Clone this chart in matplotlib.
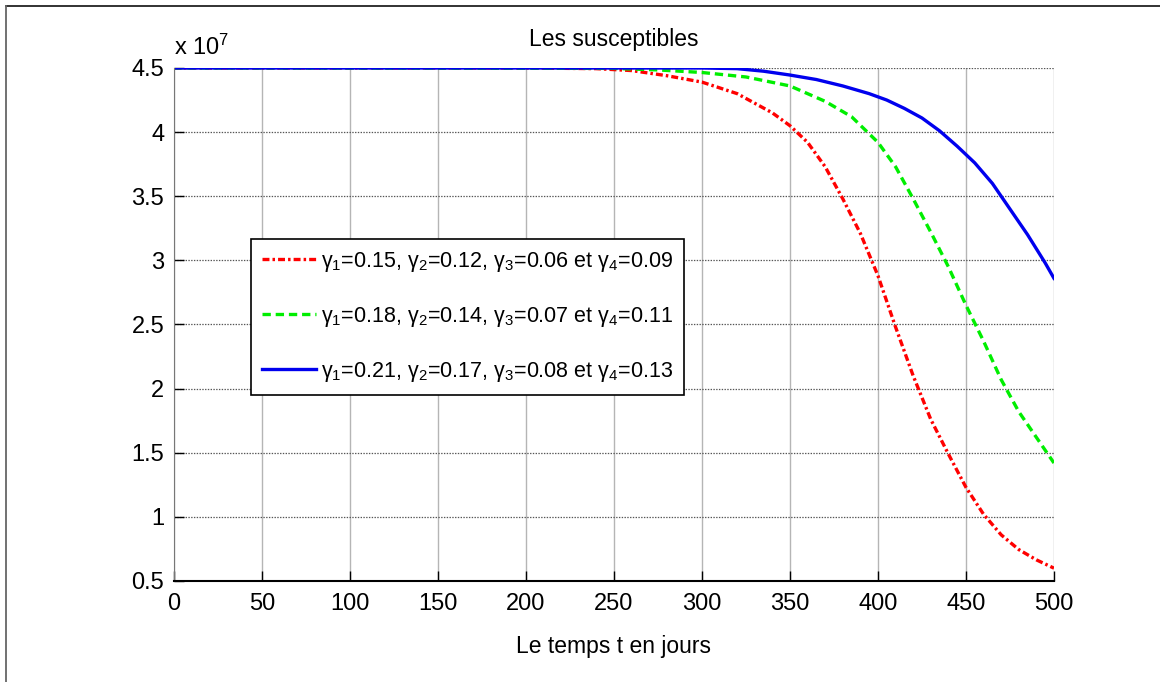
import matplotlib
matplotlib.use("Agg")
import matplotlib.pyplot as plt
from matplotlib import font_manager
from matplotlib.lines import Line2D

# police proche de Helvetica étroite (style MATLAB)
names = {f.name for f in font_manager.fontManager.ttflist}
police = "Liberation Sans Narrow" if "Liberation Sans Narrow" in names else "Liberation Sans"
plt.rcParams["font.family"] = [police, "DejaVu Sans"]
plt.rcParams["mathtext.fontset"] = "custom"
plt.rcParams["mathtext.rm"] = police
plt.rcParams["mathtext.it"] = police
plt.rcParams["mathtext.default"] = "regular"
plt.rcParams["lines.scale_dashes"] = False

# temps (jours) et susceptibles (x 10^7)
t_rouge = [0, 200, 240, 260, 280, 300, 320, 340, 350, 360, 370, 380, 390, 400,
           410, 420, 430, 440, 450, 460, 470, 480, 490, 500]
s_rouge = [4.5, 4.5, 4.495, 4.48, 4.44, 4.39, 4.30, 4.15, 4.05, 3.92, 3.73, 3.48,
           3.21, 2.88, 2.48, 2.10, 1.76, 1.49, 1.23, 1.02, 0.86, 0.745, 0.665, 0.60]

t_vert = [0, 250, 275, 300, 325, 350, 370, 385, 400, 410, 420, 430, 440, 450,
          460, 470, 480, 490, 500]
s_vert = [4.5, 4.497, 4.485, 4.465, 4.43, 4.36, 4.24, 4.12, 3.92, 3.73, 3.48,
          3.22, 2.95, 2.65, 2.37, 2.07, 1.82, 1.62, 1.42]

t_bleu = [0, 300, 320, 335, 350, 365, 380, 395, 405, 415, 425, 435, 445, 455,
          465, 475, 485, 495, 500]
s_bleu = [4.5, 4.5, 4.495, 4.475, 4.445, 4.41, 4.36, 4.30, 4.25, 4.185, 4.11,
          4.01, 3.89, 3.76, 3.60, 3.40, 3.20, 2.98, 2.86]

etiquettes = [
    r"$\gamma_1$=0.15, $\gamma_2$=0.12, $\gamma_3$=0.06 et $\gamma_4$=0.09",
    r"$\gamma_1$=0.18, $\gamma_2$=0.14, $\gamma_3$=0.07 et $\gamma_4$=0.11",
    r"$\gamma_1$=0.21, $\gamma_2$=0.17, $\gamma_3$=0.08 et $\gamma_4$=0.13",
]
xticks = list(range(0, 501, 50))
yticks = [0.5, 1, 1.5, 2, 2.5, 3, 3.5, 4, 4.5]

fs = 17

fig = plt.figure(figsize=(11.6, 6.82), dpi=100)
ax = fig.add_axes([0.15, 0.1481, 0.7586, 0.7522])

ax.plot(t_rouge, s_rouge, color="red", lw=2.4, ls=(0, (5, 2.2, 1.8, 2.2)), label=etiquettes[0])
ax.plot(t_vert, s_vert, color="#00ee00", lw=2.4, ls=(0, (6, 3.5)), label=etiquettes[1])
ax.plot(t_bleu, s_bleu, color="#0000ee", lw=2.4, ls="-", label=etiquettes[2])

ax.set_xlim(0, 500)
ax.set_ylim(0.5, 4.5)
ax.set_xticks(xticks)
ax.set_yticks(yticks)
ax.set_xticklabels([str(v) for v in xticks])
ax.set_yticklabels([("%g" % v) for v in yticks])
ax.tick_params(direction="in", length=7, width=1, labelsize=fs, color="black")
ax.tick_params(axis="x", pad=9)
ax.tick_params(axis="y", pad=7)

# grille façon MATLAB
ax.grid(axis="x", color="#b5b5b5", lw=1, ls="-")
ax.grid(axis="y", color="#555555", lw=0.9, ls=(0, (1, 1)))
ax.set_axisbelow(True)

for cote in ["top", "right"]:
    ax.spines[cote].set_visible(False)
ax.spines["left"].set_color("#777777")
ax.spines["bottom"].set_linewidth(1.5)

ax.set_title("Les susceptibles", fontsize=16.5, pad=16)
ax.set_xlabel("Le temps t en jours", fontsize=16.5, labelpad=14)
ax.text(0, 1.015, r"x 10$^{7}$", transform=ax.transAxes, fontsize=fs,
        ha="left", va="bottom")

leg = ax.legend(loc="lower left", bbox_to_anchor=(0.0875, 0.363), fontsize=15.5,
                frameon=True, fancybox=False, framealpha=1, edgecolor="black",
                handlelength=2.5, handletextpad=0.25, labelspacing=1.45,
                borderpad=0.5, borderaxespad=0)
leg.get_frame().set_linewidth(1.2)

# cadre de la capture (haut et gauche)
fig.add_artist(Line2D([6 / 1160, 1], [1 - 6 / 682, 1 - 6 / 682], color="#222222", lw=1.3))
fig.add_artist(Line2D([6 / 1160, 6 / 1160], [0, 1 - 6 / 682], color="#666666", lw=1.3))

fig.savefig("out.png", dpi=100)
